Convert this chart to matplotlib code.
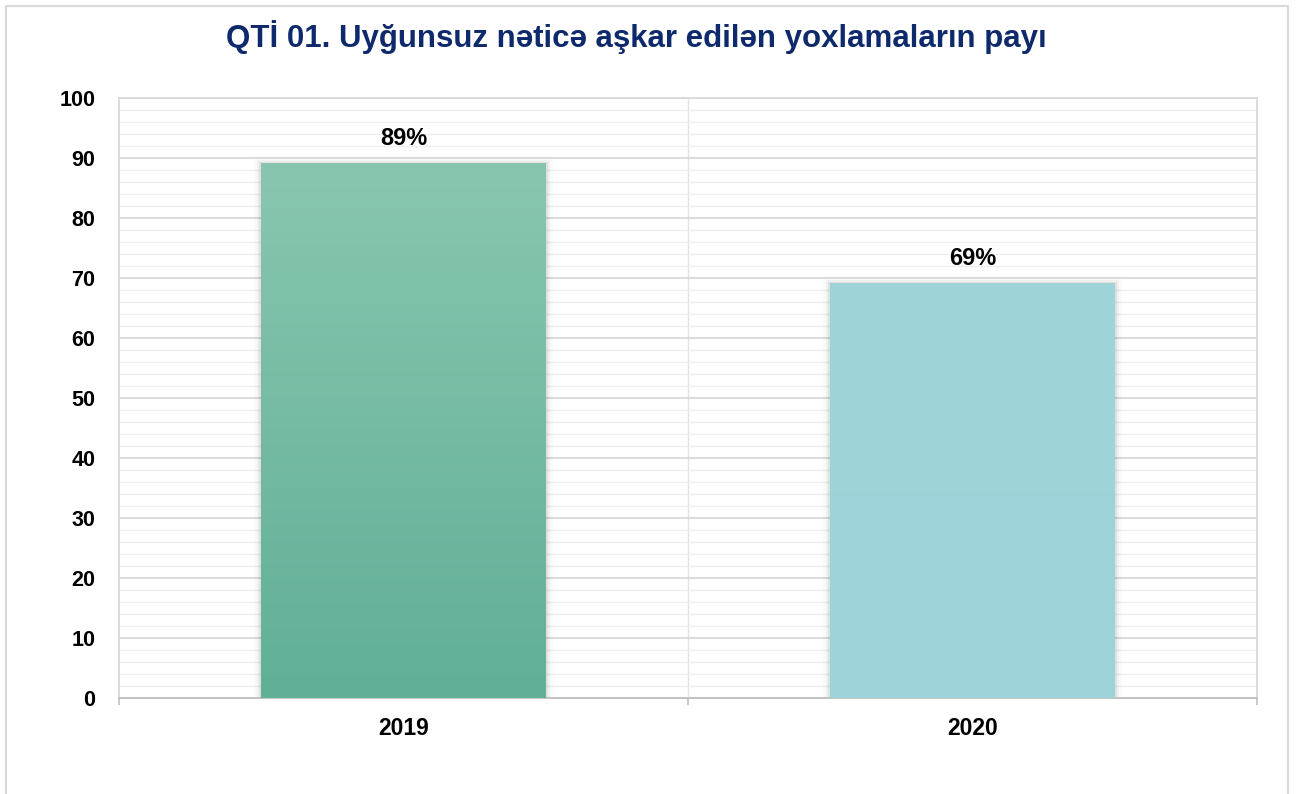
import matplotlib.pyplot as plt
import numpy as np
from matplotlib.patches import Rectangle

plt.rcParams['font.family'] = ['Liberation Sans', 'DejaVu Sans']

years = ['2019', '2020']
values = [89, 69]
labels = ['89%', '69%']
# top / bottom colour of each bar (2019 has a soft vertical gradient)
top_colors = ['#89c6af', '#9fd4d9']
bottom_colors = ['#61af97', '#9dd3d8']

fig = plt.figure(figsize=(12.98, 7.94), dpi=100)
fig.patches.append(Rectangle((0.005, -0.01), 0.987, 1.002, transform=fig.transFigure,
                             fill=False, edgecolor='#d9d9d9', linewidth=1.5))
ax = fig.add_axes([0.0917, 0.1209, 0.8767, 0.7557])

x = np.arange(len(years))
width = 0.5

# grid: major every 10, minor every 2
ax.set_yticks(np.arange(0, 101, 10))
ax.set_yticks(np.arange(0, 101, 2), minor=True)
ax.grid(axis='y', which='major', color='#d9d9d9', linewidth=1.3, zorder=0)
ax.grid(axis='y', which='minor', color='#efefef', linewidth=1.0, zorder=0)
ax.tick_params(axis='y', which='both', length=0)
for b in np.arange(0.5, len(years) - 0.5, 1):
    ax.axvline(b, color='#e3e3e3', linewidth=1.0, zorder=0)

for s in ['top', 'right', 'left']:
    ax.spines[s].set_color('#d9d9d9')
    ax.spines[s].set_linewidth(1.3)
ax.spines['bottom'].set_color('#bfbfbf')
ax.spines['bottom'].set_linewidth(1.3)

bars = ax.bar(x, values, width=width, color='none', zorder=3)
for i, bar in enumerate(bars):
    x0 = bar.get_x()
    h = bar.get_height()
    # soft shadow
    for k, a in enumerate([0.06, 0.04, 0.02]):
        d = 0.004 * (k + 1)
        ax.add_patch(Rectangle((x0 - d, 0), width + 2 * d, h + 0.3 * (k + 1),
                               facecolor='#000000', alpha=a, edgecolor='none', zorder=2))
    c1 = np.array(plt.matplotlib.colors.to_rgb(top_colors[i]))
    c2 = np.array(plt.matplotlib.colors.to_rgb(bottom_colors[i]))
    t = np.linspace(0, 1, 256)[:, None]
    grad = (c1 * (1 - t) + c2 * t)[:, None, :]
    ax.imshow(grad, extent=[x0, x0 + width, 0, h], aspect='auto', zorder=3,
              interpolation='bicubic')
    ax.annotate(labels[i], (bar.get_x() + width / 2, h), xytext=(0, 10),
                textcoords='offset points', ha='center', va='bottom',
                fontsize=17, fontweight='bold', color='#000000', zorder=5)

ax.set_xlim(-0.5, len(years) - 0.5)
ax.set_ylim(0, 100)
ax.set_aspect('auto')

# category boundary ticks on x axis, labels centred
ax.set_xticks(np.arange(-0.5, len(years), 1))
ax.set_xticklabels([])
ax.tick_params(axis='x', which='major', length=5, color='#bfbfbf', width=1.2)
ax.set_xticks(x, minor=True)
ax.set_xticklabels(years, minor=True, fontsize=16.5, fontweight='bold')
ax.tick_params(axis='x', which='minor', length=0, pad=14)

for lab in ax.get_yticklabels():
    lab.set_fontsize(15.5)
    lab.set_fontweight('bold')
ax.tick_params(axis='y', pad=17)

fig.text(0.49, 0.953, 'QTİ 01. Uyğunsuz nəticə aşkar edilən yoxlamaların payı',
         ha='center', va='center', fontsize=22.5, fontweight='bold', color='#0e2a6c')

fig.savefig('out.png', dpi=100)
